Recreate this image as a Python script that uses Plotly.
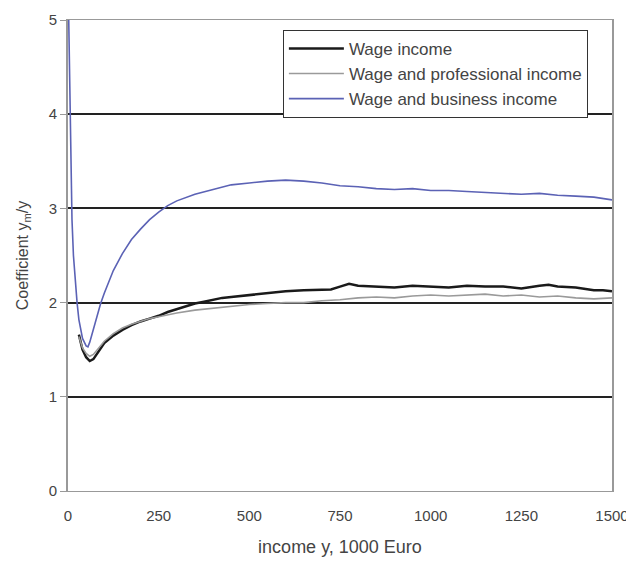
import plotly.graph_objects as go

# Wage income
wage_x = [30, 40, 50, 60, 70, 80, 90, 100, 125, 150, 175, 200, 225, 250, 275, 300, 325, 350, 375, 400,
          425, 450, 475, 500, 550, 600, 650, 700, 725, 750, 775, 800, 850, 900, 950, 1000, 1050, 1100,
          1150, 1200, 1250, 1300, 1325, 1350, 1400, 1450, 1475, 1500]
wage_y = [1.66, 1.50, 1.42, 1.38, 1.40, 1.46, 1.52, 1.57, 1.65, 1.71, 1.76, 1.80, 1.83, 1.86, 1.90, 1.93, 1.96,
          1.99, 2.01, 2.03, 2.05, 2.06, 2.07, 2.08, 2.10, 2.12, 2.13, 2.14, 2.14, 2.17, 2.20, 2.18, 2.17,
          2.16, 2.18, 2.17, 2.16, 2.18, 2.17, 2.17, 2.15, 2.18, 2.19, 2.17, 2.16, 2.13, 2.13, 2.12]

# Wage and professional income
prof_x = [30, 40, 50, 60, 70, 80, 90, 100, 125, 150, 175, 200, 225, 250, 275, 300, 350, 400, 450, 500,
          550, 600, 650, 700, 750, 800, 850, 900, 950, 1000, 1050, 1100, 1150, 1200, 1250, 1300, 1350,
          1400, 1450, 1500]
prof_y = [1.64, 1.52, 1.46, 1.43, 1.45, 1.50, 1.55, 1.59, 1.67, 1.73, 1.77, 1.80, 1.83, 1.85, 1.87, 1.89,
          1.92, 1.94, 1.96, 1.98, 1.99, 2.00, 2.00, 2.02, 2.03, 2.05, 2.06, 2.05, 2.07, 2.08, 2.07, 2.08,
          2.09, 2.07, 2.08, 2.06, 2.07, 2.05, 2.04, 2.05]

# Wage and business income
bus_x = [2, 5, 8, 11, 15, 20, 25, 30, 40, 50, 55, 60, 70, 80, 90, 100, 125, 150, 175, 200, 225, 250,
         275, 300, 350, 400, 450, 500, 550, 600, 650, 700, 750, 800, 850, 900, 950, 1000, 1050, 1100,
         1150, 1200, 1250, 1300, 1350, 1400, 1450, 1500]
bus_y = [5.00, 4.20, 3.40, 2.88, 2.50, 2.20, 2.00, 1.82, 1.62, 1.54, 1.53, 1.58, 1.72, 1.87, 1.99, 2.10,
         2.34, 2.52, 2.67, 2.78, 2.88, 2.96, 3.03, 3.08, 3.15, 3.20, 3.25, 3.27, 3.29, 3.30, 3.29, 3.27,
         3.24, 3.23, 3.21, 3.20, 3.21, 3.19, 3.19, 3.18, 3.17, 3.16, 3.15, 3.16, 3.14, 3.13, 3.12, 3.09]

x_ticks = [0, 250, 500, 750, 1000, 1250, 1500]
y_ticks = [0, 1, 2, 3, 4, 5]

FAM = "Liberation Sans, Arial, sans-serif"
font = dict(family=FAM, size=15, color="#444")

fig = go.Figure()
fig.add_trace(go.Scatter(x=wage_x, y=wage_y, mode="lines", name="Wage income", legendgroup="a",
                         line=dict(color="#1a1a1a", width=2.5)))
fig.add_trace(go.Scatter(x=prof_x, y=prof_y, mode="lines", name="Wage and professional income", legendgroup="b",
                         line=dict(color="#9a9a9a", width=1.6)))
fig.add_trace(go.Scatter(x=bus_x, y=bus_y, mode="lines", name="Wage and business income", legendgroup="c",
                         line=dict(color="#5b62b5", width=1.6)))

fig.update_layout(
    width=626, height=558,
    margin=dict(l=60, r=22, t=12, b=75, autoexpand=False),
    paper_bgcolor="white", plot_bgcolor="white",
    font=font,
    showlegend=True,
    legend=dict(x=0.395, y=0.979, xanchor="left", yanchor="top",
                bgcolor="white", bordercolor="#333", borderwidth=1,
                font=dict(family=FAM, size=17, color="#444"),
                traceorder="normal", itemwidth=55),
    xaxis=dict(range=[0, 1500], tickvals=x_ticks, ticktext=[str(v) for v in x_ticks],
               showgrid=False, zeroline=False, showline=True, linecolor="#999", linewidth=1,
               mirror=True, ticks="outside", ticklen=11, tickcolor="rgba(0,0,0,0)",
               automargin=False, tickfont=dict(size=15),
               title=dict(text="income y, 1000 Euro", font=dict(size=18, color="#444"), standoff=17)),
    yaxis=dict(range=[0, 5], tickvals=y_ticks, ticktext=[str(v) for v in y_ticks],
               showgrid=True, gridcolor="#222", gridwidth=2, zeroline=False,
               showline=True, linecolor="#999", linewidth=2, mirror=True,
               ticks="outside", ticklen=6, tickcolor="#999",
               automargin=False, tickfont=dict(size=15),
               title=dict(text="Coefficient y<sub>m</sub>/y", font=dict(size=16, color="#444"), standoff=16)),
)

fig.write_html("out.html")
